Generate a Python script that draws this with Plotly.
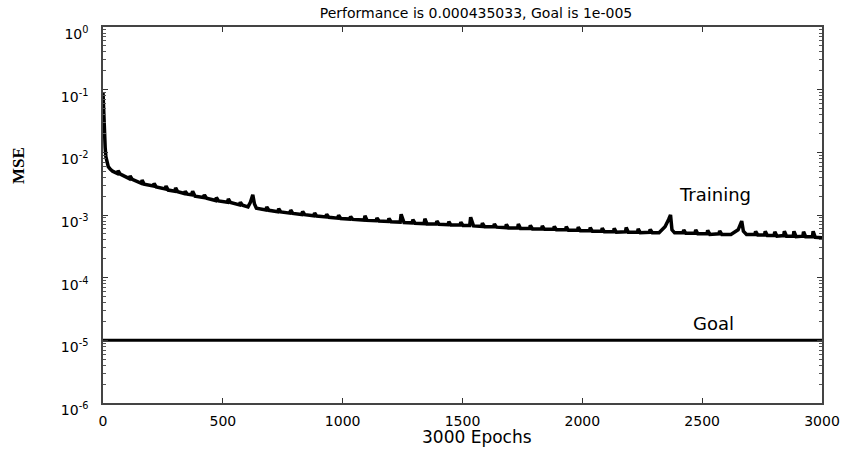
import plotly.graph_objects as go

# Training record (epoch, MSE)
epochs = [0, 2, 4, 6, 9, 12, 16, 22, 30, 40,
          60, 63, 72, 110, 113, 122, 160, 163, 172, 210, 213, 222,
          260, 263, 272, 300, 303, 312, 340, 343, 352, 370, 374, 384,
          420, 423, 432, 470, 473, 482, 520, 523, 532, 570, 573, 582,
          605, 615, 625, 632, 640,
          680, 683, 692, 730, 733, 742, 780, 783, 792, 830, 833, 842,
          880, 883, 892, 930, 933, 942, 980, 983, 992, 1030, 1033, 1042,
          1090, 1093, 1102, 1140, 1143, 1152, 1190, 1193, 1202, 1240, 1244, 1256,
          1290, 1293, 1302, 1340, 1343, 1352, 1390, 1393, 1402, 1440, 1443, 1452,
          1490, 1493, 1502, 1530, 1534, 1546, 1580, 1583, 1592, 1630, 1633, 1642,
          1680, 1683, 1692, 1730, 1733, 1742, 1780, 1783, 1792, 1830, 1833, 1842,
          1880, 1883, 1892, 1930, 1933, 1942, 1980, 1983, 1992, 2030, 2033, 2042,
          2080, 2083, 2092, 2130, 2133, 2142, 2180, 2183, 2192, 2230, 2233, 2242,
          2280, 2283, 2292,
          2320, 2345, 2360, 2368, 2374, 2385,
          2420, 2423, 2432, 2470, 2473, 2482, 2520, 2523, 2532, 2570, 2573, 2582,
          2620, 2650, 2665, 2672, 2685,
          2720, 2723, 2732, 2760, 2763, 2772, 2800, 2803, 2812, 2840, 2843, 2852,
          2880, 2883, 2892, 2920, 2923, 2932, 2960, 2963, 2972, 3000]

mse = [0.09, 0.05, 0.028, 0.017, 0.012, 0.0085, 0.0068, 0.0059, 0.0054, 0.0050,
       0.0046, 0.0051, 0.0045, 0.0038, 0.0042, 0.0037, 0.0032, 0.0036, 0.0031, 0.0029, 0.0032, 0.0028,
       0.0026, 0.0029, 0.0025, 0.0024, 0.0027, 0.00235, 0.0022, 0.0024, 0.00215, 0.0021, 0.0024, 0.0020,
       0.0019, 0.0021, 0.00185, 0.0017, 0.0019, 0.00168, 0.0016, 0.0018, 0.00158, 0.00145, 0.0016, 0.00143,
       0.00135, 0.0016, 0.0021, 0.0015, 0.00128,
       0.0012, 0.00135, 0.00119, 0.00113, 0.00126, 0.00112, 0.00107, 0.0012, 0.00106, 0.00102, 0.00114, 0.00101,
       0.00097, 0.00108, 0.00096, 0.00093, 0.00103, 0.00092, 0.00089, 0.00099, 0.00088, 0.00086, 0.00095, 0.00085,
       0.00083, 0.00097, 0.00082, 0.00081, 0.0009, 0.0008, 0.00079, 0.00088, 0.00078, 0.00077, 0.00103, 0.00076,
       0.00075, 0.00084, 0.00074, 0.00073, 0.00087, 0.00072, 0.00072, 0.0008, 0.00071, 0.0007, 0.00078, 0.00069,
       0.00069, 0.00077, 0.00068, 0.00068, 0.00092, 0.00067, 0.00066, 0.00074, 0.00065, 0.00065, 0.00072, 0.00064,
       0.00063, 0.00071, 0.00062, 0.00062, 0.00072, 0.00061, 0.00061, 0.00068, 0.0006, 0.0006, 0.00067, 0.00059,
       0.00059, 0.00066, 0.00058, 0.00058, 0.00065, 0.00057, 0.00057, 0.00064, 0.00056, 0.00056, 0.00063, 0.00055,
       0.00055, 0.00062, 0.00054, 0.00054, 0.00061, 0.00053, 0.00054, 0.00063, 0.00053, 0.00053, 0.0006, 0.00052,
       0.00053, 0.00059, 0.00052,
       0.00052, 0.00065, 0.00085, 0.001, 0.00058, 0.00052,
       0.00052, 0.00058, 0.00051, 0.00051, 0.00058, 0.0005, 0.0005, 0.00057, 0.00049, 0.0005, 0.00056, 0.00049,
       0.00049, 0.00058, 0.0008, 0.00055, 0.00049,
       0.00049, 0.00055, 0.00048, 0.00048, 0.00055, 0.00047, 0.00047, 0.00054, 0.00046, 0.00047, 0.00055, 0.00046,
       0.00046, 0.00055, 0.00045, 0.00046, 0.00054, 0.00045, 0.00045, 0.00055, 0.00044, 0.000435]

goal_value = 1e-5
x_range = [0, 3000]
x_ticks = [0, 500, 1000, 1500, 2000, 2500, 3000]
y_ticks = [1e-6, 1e-5, 1e-4, 1e-3, 1e-2, 1e-1, 1e0]
y_ticktext = ["10<sup>-6</sup>", "10<sup>-5</sup>", "10<sup>-4</sup>", "10<sup>-3</sup>",
              "10<sup>-2</sup>", "10<sup>-1</sup>", "10<sup>0</sup>"]
title_text = "Performance is 0.000435033, Goal is 1e-005"
x_title = "3000 Epochs"
y_title = "MSE"

SANS = "DejaVu Sans, Verdana, Arial"
PLOT_L, PLOT_R, PLOT_T, PLOT_B = 103, 822, 27, 403
PW, PH = PLOT_R - PLOT_L, PLOT_B - PLOT_T

fig = go.Figure()
fig.add_trace(go.Scatter(x=epochs, y=mse, mode="lines",
                         line=dict(color="black", width=3.5), showlegend=False))
fig.add_trace(go.Scatter(x=x_range, y=[goal_value, goal_value], mode="lines",
                         line=dict(color="black", width=3), showlegend=False))

axis_font = dict(family=SANS, size=14, color="black")

fig.update_layout(
    width=858, height=452,
    margin=dict(l=PLOT_L, r=858 - PLOT_R, t=PLOT_T, b=452 - PLOT_B),
    paper_bgcolor="white", plot_bgcolor="white",
    title=dict(text=title_text, x=476/858, xanchor="center", y=1 - 13/452, yanchor="middle",
               font=dict(family=SANS, size=14, color="black")),
    xaxis=dict(range=x_range, tickvals=x_ticks, ticktext=[str(v) for v in x_ticks],
               ticks="inside", ticklen=5, tickcolor="#333", showgrid=False, zeroline=False,
               showline=True, linecolor="#444", linewidth=1.5, mirror="allticks",
               tickfont=axis_font, ticklabelstandoff=4),
    yaxis=dict(type="log", range=[-6, 0], tickvals=y_ticks, ticktext=y_ticktext,
               ticks="inside", ticklen=5, tickcolor="#333", showgrid=False, zeroline=False,
               showline=True, linecolor="#444", linewidth=1.5, mirror="allticks",
               tickfont=axis_font, ticklabelstandoff=10, ticklabelshift=7,
               minor=dict(ticks="inside", ticklen=3, tickcolor="#555", dtick="D1", showgrid=False)),
    annotations=[
        dict(text="Training", x=2553, y=-2.68, xref="x", yref="y", showarrow=False,
             font=dict(family=SANS, size=18, color="black")),
        dict(text="Goal", x=2549, y=-4.73, xref="x", yref="y", showarrow=False,
             font=dict(family=SANS, size=18, color="black")),
        dict(text=x_title, x=(477 - PLOT_L) / PW, y=(PLOT_B - 437) / PH, xref="paper", yref="paper",
             xanchor="center", yanchor="middle", showarrow=False,
             font=dict(family=SANS, size=17, color="black")),
        dict(text="<b>" + y_title + "</b>", x=(18 - PLOT_L) / PW, y=(PLOT_B - 166) / PH,
             xref="paper", yref="paper", xanchor="center", yanchor="middle",
             showarrow=False, textangle=-90,
             font=dict(family="Liberation Serif, Times New Roman", size=17, color="black")),
    ],
)

fig.write_html("out.html")
